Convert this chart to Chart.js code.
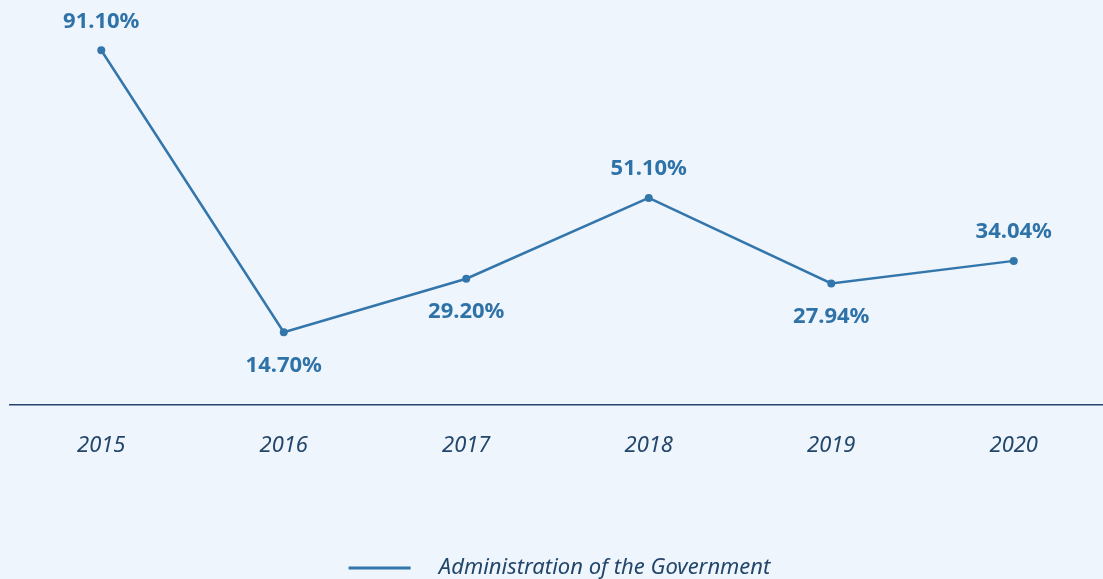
<!DOCTYPE html>
<html>
<head>
<meta charset="utf-8">
<script src="https://cdn.jsdelivr.net/npm/chart.js@4.4.1/dist/chart.umd.min.js"></script>
<style>
  html, body { margin: 0; padding: 0; background: #eff5fc; overflow: hidden; }
  #wrap { width: 1109px; height: 589px; }
</style>
</head>
<body>
<div id="wrap"><canvas id="chartAdmin"></canvas></div>
<script>
// data
const years = ['2015', '2016', '2017', '2018', '2019', '2020'];
const adminValues = [91.10, 14.70, 29.20, 51.10, 27.94, 34.04];
// where each value label sits relative to its point
const labelSide = ['above', 'below', 'below', 'above', 'below', 'above'];
const seriesName = 'Administration of the Government';

const lineColor = '#3376ab';
const labelColor = '#2f72a8';
const axisColor = '#23476b';
const fontFamily = '"Noto Sans", "Open Sans", sans-serif';

// simple value labels, drawn after the datasets
const valueLabels = {
    id: 'valueLabels',
    afterDatasetsDraw(chart) {
        const ctx = chart.ctx;
        const meta = chart.getDatasetMeta(0);
        ctx.save();
        ctx.font = 'bold 22px ' + fontFamily;
        ctx.fillStyle = labelColor;
        ctx.textAlign = 'center';
        ctx.textBaseline = 'middle';
        meta.data.forEach(function (pt, i) {
            const dy = labelSide[i] === 'above' ? -29 : 33;
            ctx.fillText(adminValues[i].toFixed(2) + '%', pt.x, pt.y + dy);
        });
        ctx.restore();
    }
};

new Chart(document.getElementById('chartAdmin'), {
    type: 'line',
    data: {
        labels: years,
        datasets: [{
            label: seriesName,
            data: adminValues,
            borderColor: lineColor,
            backgroundColor: lineColor,
            borderWidth: 2.5,
            pointRadius: 4,
            pointBackgroundColor: lineColor,
            pointBorderWidth: 0,
            tension: 0,
            fill: false
        }]
    },
    options: {
        responsive: true,
        maintainAspectRatio: false,
        animation: false,
        layout: {
            padding: { left: 10, right: 0, top: 10, bottom: 0 }
        },
        plugins: {
            tooltip: { enabled: false },
            legend: {
                position: 'bottom',
                labels: {
                    boxWidth: 62,
                    boxHeight: 3,
                    padding: 2,
                    color: axisColor,
                    font: { family: fontFamily, size: 22, style: 'italic' },
                    generateLabels: function (chart) {
                        return [{
                            text: '   ' + seriesName,
                            fillStyle: lineColor,
                            strokeStyle: lineColor,
                            lineWidth: 0,
                            fontColor: axisColor,
                            datasetIndex: 0
                        }];
                    }
                }
            }
        },
        scales: {
            x: {
                offset: true,
                grid: { display: false },
                border: { display: true, color: axisColor, width: 1.5 },
                ticks: {
                    color: axisColor,
                    padding: 20,
                    font: { family: fontFamily, size: 22, style: 'italic' }
                },
                afterFit: function (scale) {
                    scale.height = 150;
                }
            },
            y: {
                display: false,
                min: -5,
                max: 102
            }
        }
    },
    plugins: [valueLabels]
});
</script>
</body>
</html>
